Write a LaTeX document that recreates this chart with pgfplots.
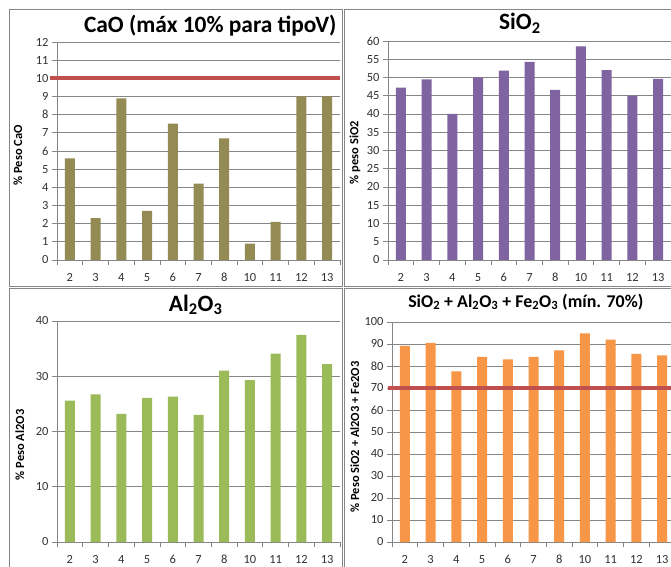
\documentclass[border=0pt]{standalone}
\usepackage{fontspec}
\setmainfont{Carlito}
\usepackage{pgfplots}
\pgfplotsset{compat=1.18}

\definecolor{caoc}{RGB}{148,138,84}
\definecolor{sioc}{RGB}{128,100,162}
\definecolor{alc}{RGB}{155,187,89}
\definecolor{sumc}{RGB}{247,150,70}
\definecolor{limitc}{RGB}{192,80,77}
\definecolor{gridc}{RGB}{134,134,134}
\definecolor{framec}{RGB}{134,134,134}
\definecolor{labelc}{RGB}{50,50,50}

\pgfplotsset{
  panel/.style={
    scale only axis,
    anchor=south west,
    width=283bp,
    xmin=-0.5, xmax=10.5,
    ymin=0,
    xtick={0,...,10},
    xticklabels={2,3,4,5,6,7,8,10,11,12,13},
    minor xtick={-0.5,0.5,...,10.5},
    major x tick style={draw=none},
    major tick length=5bp,
    minor tick length=5bp,
    tick align=outside,
    axis x line*=bottom,
    axis y line*=left,
    axis line style={draw=gridc, line width=0.8bp, -},
    tick style={draw=gridc, line width=0.8bp},
    ymajorgrids,
    major grid style={draw=gridc, line width=0.8bp},
    /pgf/number format/assume math mode=true,
    tick label style={font=\fontsize{12.5}{13}\selectfont, text=labelc},
    xticklabel style={anchor=north, text height=8bp, text depth=0bp, yshift=-5bp},
    ylabel style={font=\bfseries\fontsize{12.5}{13}\selectfont, anchor=center},
    title style={font=\bfseries\fontsize{23.5}{25}\selectfont},
    clip=false,
  },
  bars/.style={ybar, bar width=10bp, draw=none, fill=#1},
  limit/.style={draw=limitc, line width=4bp, mark=none},
}

\begin{document}
\begin{tikzpicture}
\useasboundingbox (0,0) rectangle (671bp,567bp);
\clip (0,0) rectangle (671bp,567bp);
\fill[white] (0,0) rectangle (671bp,567bp);

% panel frames
\draw[framec, line width=1bp] (9.5bp,280bp) rectangle (342bp,557.5bp);
\draw[framec, line width=1bp] (344bp,280bp) rectangle (690bp,557.5bp);
\draw[framec, line width=1bp] (9.5bp,-10bp) rectangle (342bp,278bp);
\draw[framec, line width=1bp] (344bp,-10bp) rectangle (690bp,278bp);

% CaO
\begin{axis}[panel,
  at={(57bp,307bp)}, height=218bp,
  ymax=12, ytick={0,1,...,12},
  ylabel={\% Peso CaO},
  ylabel style={at={(axis description cs:-0.138,0.48)}},
  title={CaO (máx 10\% para tipoV)},
  title style={at={(axis description cs:1.0,1.014)}, anchor=base east},
]
\addplot[bars=caoc] coordinates {
  (0,5.6) (1,2.3) (2,8.9) (3,2.7) (4,7.5) (5,4.2)
  (6,6.7) (7,0.9) (8,2.1) (9,9.0) (10,9.0)};
\addplot[limit] coordinates {(-0.77,10) (10.5,10)};
\end{axis}

% SiO2
\begin{axis}[panel,
  at={(388bp,307bp)}, height=219bp,
  ymax=60, ytick={0,5,...,60},
  ylabel={\% peso SiO2},
  ylabel style={at={(axis description cs:-0.117,0.49)}},
  title={SiO\textsubscript{2}},
  title style={at={(axis description cs:0.466,1.023)}, anchor=base},
]
\addplot[bars=sioc] coordinates {
  (0,47.2) (1,49.5) (2,40.0) (3,50.0) (4,51.9) (5,54.3)
  (6,46.6) (7,58.5) (8,52.0) (9,45.0) (10,49.6)};
\end{axis}

% Al2O3
\begin{axis}[panel,
  at={(57bp,25bp)}, height=221bp,
  ymax=40, ytick={0,10,...,40},
  ylabel={\% Peso Al2O3},
  ylabel style={at={(axis description cs:-0.131,0.44)}},
  title={Al\textsubscript{2}O\textsubscript{3}},
  title style={at={(axis description cs:0.49,1.018)}, anchor=base},
]
\addplot[bars=alc] coordinates {
  (0,25.6) (1,26.7) (2,23.2) (3,26.1) (4,26.3) (5,23.0)
  (6,31.0) (7,29.3) (8,34.1) (9,37.5) (10,32.2)};
\end{axis}

% SiO2 + Al2O3 + Fe2O3
\begin{axis}[panel,
  at={(392bp,25bp)}, height=220bp,
  ymax=100, ytick={0,10,...,100},
  ylabel={\% Peso SiO2 + Al2O3 + Fe2O3},
  ylabel style={at={(axis description cs:-0.131,0.477)}},
  title={SiO\textsubscript{2} + Al\textsubscript{2}O\textsubscript{3} + Fe\textsubscript{2}O\textsubscript{3} (mín. 70\%)},
  title style={at={(axis description cs:0.473,1.04)}, anchor=base, font=\bfseries\fontsize{18}{20}\selectfont},
]
\addplot[bars=sumc] coordinates {
  (0,89.2) (1,90.5) (2,77.6) (3,84.1) (4,83.0) (5,84.1)
  (6,87.1) (7,94.8) (8,92.0) (9,85.5) (10,84.8)};
\addplot[limit] coordinates {(-0.66,70) (10.7,70)};
\end{axis}
\end{tikzpicture}
\end{document}
